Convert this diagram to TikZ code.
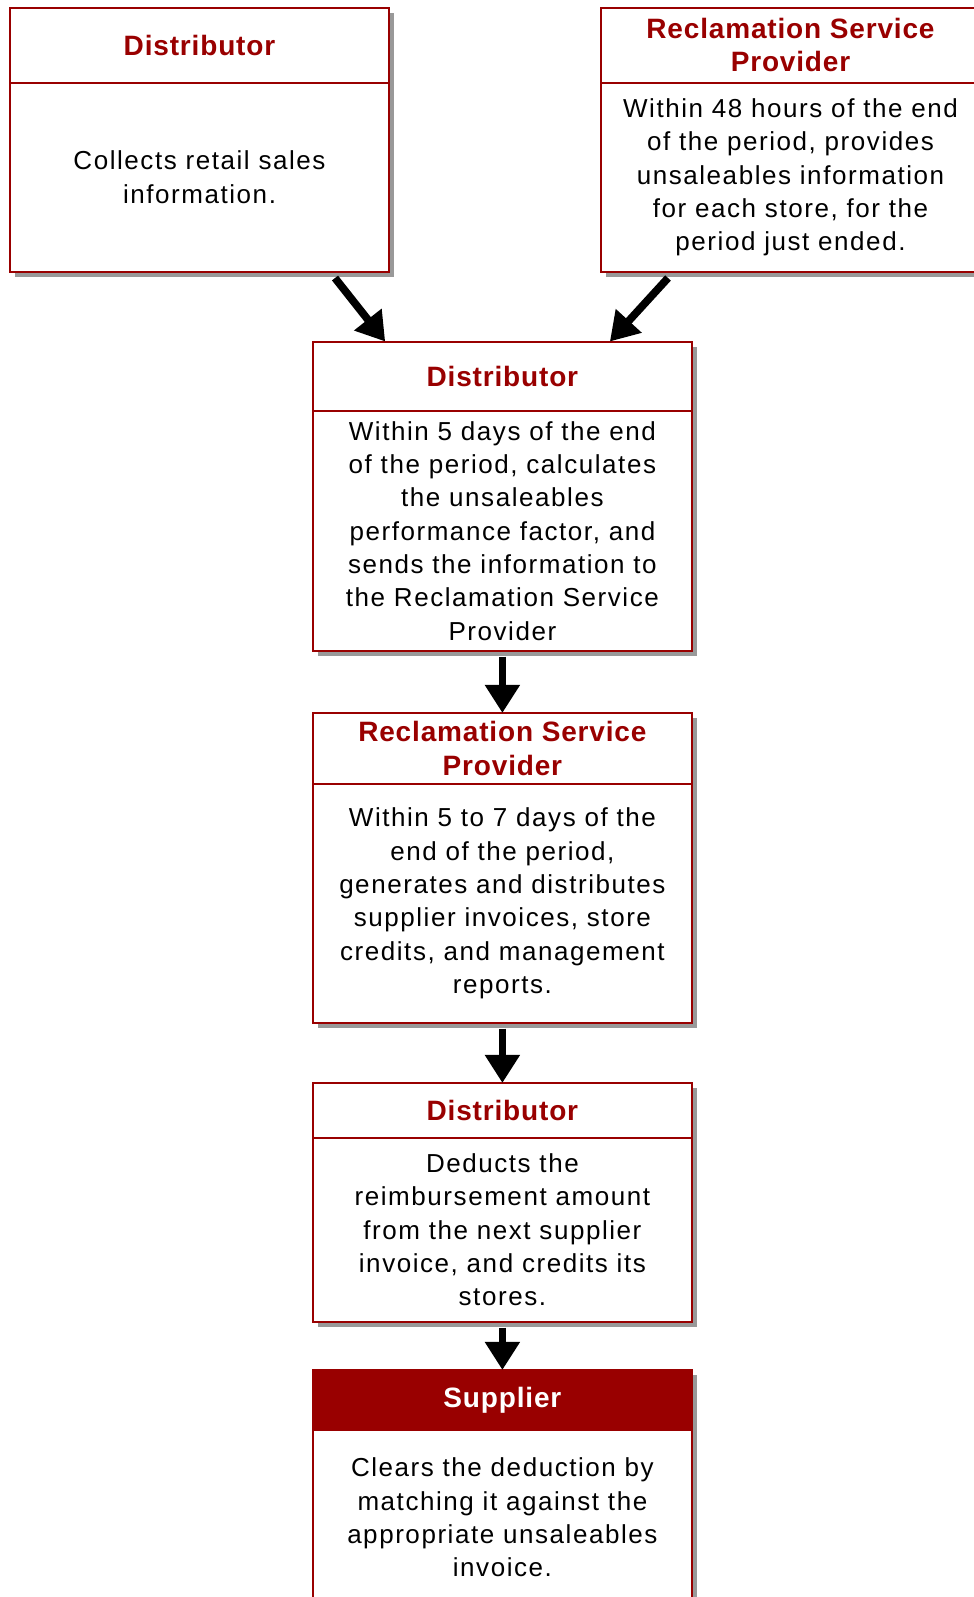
\documentclass[tikz,border=0pt]{standalone}
\usepackage{fontspec}
\setmainfont{Liberation Sans}
\newfontfamily\bodyfont[LetterSpace=6]{Liberation Sans}
\newfontfamily\headfont[LetterSpace=3]{Liberation Sans}
\usetikzlibrary{arrows.meta, positioning, shadows}
\definecolor{boxred}{HTML}{990000}

\begin{document}
\begin{tikzpicture}[
            x = 0.75pt, y = -0.75pt, % one unit per pixel
            > = {Triangle[length=21pt, width=25pt]}, % arrow head style
            flow/.style = {->, line width=5.8pt},
            node distance = 0pt % header and body touch
        ]

        \tikzstyle{head}=[
            draw = boxred,
            line width = 1.5pt,
            fill = white,
            text = boxred,
            font = \headfont\bfseries\fontsize{21}{25}\selectfont,
            align = center,
            minimum width = 284.25pt,
            inner sep = 0pt,
            outer sep = 0pt,
            drop shadow = {shadow xshift=3.75pt, shadow yshift=-3.75pt, fill=black!40, opacity=1}
        ]
        \tikzstyle{body}=[head, text = black, font = \bodyfont\fontsize{19.5}{25}\selectfont]

        \path[use as bounding box, clip] (0,0) rectangle (974,1597);

	\node[head, anchor=north, minimum height=56.6pt] (h1) at (199.5,7.5) {Distributor};
	\node[body, below=of h1, minimum height=141.4pt] (b1) {Collects retail sales\\information.};

	\node[head, anchor=north, minimum height=56.6pt] (h2) at (790.5,7.5) {Reclamation Service\\Provider};
	\node[body, below=of h2, minimum height=141.75pt] (b2) {Within 48 hours of the end\\of the period, provides\\unsaleables information\\for each store, for the\\period just ended.};

	\node[head, anchor=north, minimum height=52.1pt] (h3) at (502.4,341.5) {Distributor};
	\node[body, below=of h3, minimum height=180pt] (b3) {Within 5 days of the end\\of the period, calculates\\the unsaleables\\performance factor, and\\sends the information to\\the Reclamation Service\\Provider};

	\node[head, below=46.5pt of b3, minimum height=53.25pt] (h4) {Reclamation Service\\Provider};
	\node[body, below=of h4, minimum height=179.25pt] (b4) {Within 5 to 7 days of the\\end of the period,\\generates and distributes\\supplier invoices, store\\credits, and management\\reports.};

	\node[head, below=45pt of b4, minimum height=41.25pt] (h5) {Distributor};
	\node[body, below=of h5, minimum height=138pt] (b5) {Deducts the\\reimbursement amount\\from the next supplier\\invoice, and credits its\\stores.};

	\node[head, below=36pt of b5, minimum height=45pt, fill=boxred, text=white] (h6) {Supplier};
	\node[body, below=of h6, minimum height=131.25pt] (b6) {Clears the deduction by\\matching it against the\\appropriate unsaleables\\invoice.};

	\draw[flow] ([xshift=-40.5pt, yshift=-4.9pt]b1.south east) -- ([xshift=54.2pt]h3.north west);
	\draw[flow] ([xshift=50.25pt, yshift=-4.5pt]b2.south west) -- ([xshift=-61.5pt]h3.north east);
	\draw[flow] ([yshift=-4.3pt]b3.south) -- (h4.north);
	\draw[flow] ([yshift=-4.3pt]b4.south) -- (h5.north);
	\draw[flow] ([yshift=-4.3pt]b5.south) -- (h6.north);

    \end{tikzpicture}
\end{document}
